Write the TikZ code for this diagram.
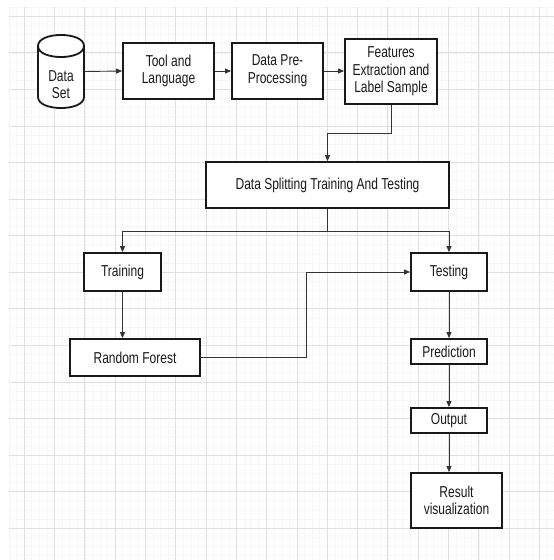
\documentclass[tikz,border=0pt]{standalone}
\usepackage{fontspec}
\setmainfont[FakeStretch=0.76]{Liberation Sans}
\usetikzlibrary{arrows.meta}
\definecolor{gridmajor}{RGB}{224,224,224}
\definecolor{gridminor}{RGB}{246,246,246}
\definecolor{edgecol}{RGB}{51,51,51}
\definecolor{txtcol}{RGB}{26,26,26}
\begin{document}
\begin{tikzpicture}[x=1pt,y=-1pt,
  box/.style={draw=black!90,line width=1.8pt,fill=white,align=center,inner sep=0pt,
    font=\fontsize{15.8}{17.6}\selectfont,text=txtcol},
  conn/.style={draw=edgecol,line width=0.9pt,-{Triangle[length=6pt,width=5pt]}},
  plain/.style={draw=edgecol,line width=0.9pt},
  minorline/.style={draw=gridminor,line width=0.8pt},
  majorline/.style={draw=gridmajor,line width=0.9pt}
]
\useasboundingbox (0,0) rectangle (554,560);
\fill[white] (0,0) rectangle (554,560);
% grid
\foreach \i in {0,...,71} \draw[minorline] ({9.1+7.58*\i},7.2) -- ({9.1+7.58*\i},560);
\foreach \i in {0,...,60} \draw[minorline] (9.1,{7.2+9.14*\i}) -- (554,{7.2+9.14*\i});
\foreach \i in {0,...,17} \draw[majorline] ({24.3+30.3*\i},7.2) -- ({24.3+30.3*\i},560);
\foreach \i in {0,...,14} \draw[majorline] (9.1,{16.3+36.57*\i}) -- (554,{16.3+36.57*\i});

% cylinder
\draw[black!90,line width=1.8pt,fill=white] (38,46) -- (38,97) .. controls (38,111.7) and (84,111.7) .. (84,97) -- (84,46) .. controls (84,31.3) and (38,31.3) .. (38,46) -- cycle;
\draw[black!90,line width=1.8pt] (38,46) .. controls (38,60.7) and (84,60.7) .. (84,46);
\node[inner sep=0pt,minimum width=46pt,minimum height=73pt] (ds) at (61,71.5) {};
\node[align=center,inner sep=0pt,font=\fontsize{15.8}{17.6}\selectfont,text=txtcol] (dstext) at (61,84.5) {Data\\Set};

% boxes
\node[box,minimum width=91pt,minimum height=56pt] (tool) at (168.5,71) {Tool and\\Language};
\node[box,minimum width=91pt,minimum height=56pt] (pre) at (277.5,71) {Data Pre-\\Processing};
\node[box,minimum width=92pt,minimum height=65pt] (feat) at (391,71.5) {Features\\Extraction and\\Label Sample};
\node[box,minimum width=243pt,minimum height=46pt] (split) at (327.5,185) {Data Splitting Training And Testing};
\node[box,minimum width=77pt,minimum height=38pt] (train) at (122.5,272) {Training};
\node[box,minimum width=76pt,minimum height=38pt] (test) at (449,272) {Testing};
\node[box,minimum width=130pt,minimum height=37pt] (rf) at (135,357.5) {Random Forest};
\node[box,minimum width=76pt,minimum height=25pt] (pred) at (449,351.5) {Prediction};
\node[box,minimum width=76pt,minimum height=25pt] (out) at (449,420.5) {Output};
\node[box,minimum width=91pt,minimum height=55pt] (res) at (456.5,500.5) {Result\\visualization};

% helper coordinates
\coordinate (fbend) at (391,133);
\coordinate (sbend) at (327.5,231);
\coordinate (rfbend) at (306,357.5);

% connectors
\draw[conn] (ds.east) -- (tool.west);
\draw[conn] (tool.east) -- (pre.west);
\draw[conn] (pre.east) -- (pre.east -| feat.west);
\draw[conn] (feat.south) -- (fbend) -| (split.north);
\draw[plain] (split.south) -- (sbend);
\draw[conn] (sbend) -| (train.north);
\draw[conn] (sbend) -| (test.north);
\draw[conn] (train.south) -- (train.south |- rf.north);
\draw[conn] (rf.east) -- (rfbend) |- (test.west);
\draw[conn] (test.south) -- (pred.north);
\draw[conn] (pred.south) -- (out.north);
\draw[conn] (out.south) -- (out.south |- res.north);
\end{tikzpicture}
\end{document}
